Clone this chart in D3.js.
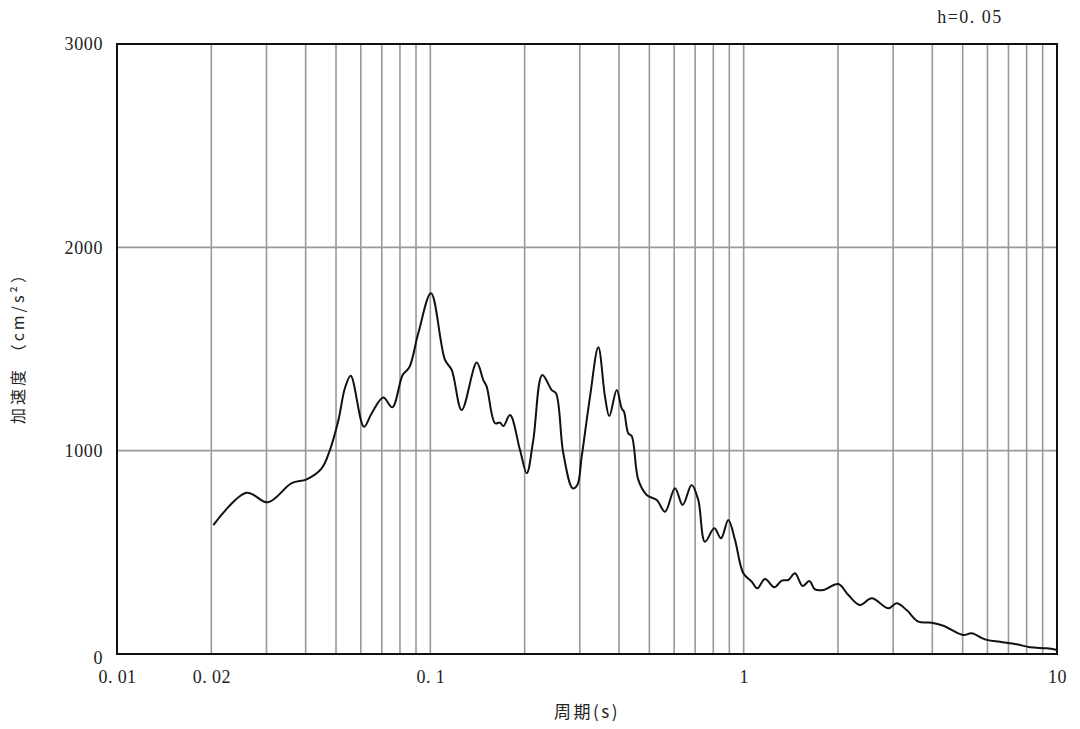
<!DOCTYPE html>
<html>
<head>
<meta charset="utf-8">
<script src="https://cdn.jsdelivr.net/npm/d3@7"></script>
<style>
html,body{margin:0;padding:0;background:#fff;}
svg{display:block;}
</style>
</head>
<body>
<svg id="chart" width="1080" height="729"></svg>
<script>
const periods = [0.0203,0.0259,0.0303,0.0361,0.0403,0.0450,0.0478,0.0509,0.0534,0.0557,
0.0614,0.0650,0.0708,0.0756,0.0816,0.0857,0.0915,0.1005,0.1114,0.1170,
0.1259,0.1406,0.1476,0.1513,0.1609,0.1669,0.1710,0.1796,0.1933,0.2031,
0.2131,0.2277,0.2440,0.2518,0.2657,0.2847,0.2945,0.3041,0.3233,0.3436,
0.3610,0.3726,0.3934,0.4081,0.4150,0.4284,0.4392,0.4611,0.4903,0.5280,
0.5610,0.6037,0.6387,0.6823,0.7163,0.7525,0.8058,0.8467,0.8933,0.9385,
0.9975,1.061,1.105,1.170,1.253,1.322,1.388,1.458,1.543,1.620,
1.689,1.796,2.005,2.158,2.351,2.563,2.895,3.078,3.313,3.609,
3.983,4.337,5.024,5.343,5.892,6.580,7.436,8.203,9.273,10.0];
const accel = [634,793,746,840,859,913,1003,1151,1308,1369,
1118,1184,1261,1213,1372,1410,1577,1774,1446,1397,
1200,1433,1347,1315,1135,1138,1121,1175,1003,889,
1052,1372,1298,1282,987,815,831,970,1265,1508,
1265,1170,1298,1208,1192,1085,1072,856,782,757,
700,815,733,831,757,552,618,569,659,561,
397,356,323,369,328,361,364,397,334,359,
318,315,344,290,241,274,225,249,216,159,
154,139,93,102,72,60,48,33,28,20];
const gridPeriods = [0.02,0.03,0.04,0.05,0.06,0.07,0.08,0.09,
0.1,0.2,0.3,0.4,0.5,0.6,0.7,0.8,0.9,
1,2,3,4,5,6,7,8,9];
const xTickValues = [0.01,0.02,0.1,1,10];
const xTickLabels = ["0. 01","0. 02","0. 1","1","10"];
const yTickValues = [0,1000,2000,3000];
const yGridValues = [1000,2000];
const xTitle = "周期(s)";
const yTitle = "加速度 （cm/s²）";
const dampingLabel = "h=0. 05";

const svg = d3.select("#chart");
const L = 117, R = 1057, T = 44, B = 654;
const x = d3.scaleLog().domain([0.01,10]).range([L,R]);
const y = d3.scaleLinear().domain([0,3000]).range([B,T]);
const numFont = "'Liberation Serif','DejaVu Serif',serif";
const cjkFont = "'Noto Sans CJK JP','Noto Sans CJK SC',sans-serif";

// grid
svg.append("g").selectAll("line").data(gridPeriods).join("line")
  .attr("x1",d=>x(d)).attr("x2",d=>x(d)).attr("y1",T).attr("y2",B)
  .attr("stroke","#999").attr("stroke-width",1.6);
svg.append("g").selectAll("line").data(yGridValues).join("line")
  .attr("x1",L).attr("x2",R).attr("y1",d=>y(d)).attr("y2",d=>y(d))
  .attr("stroke","#999").attr("stroke-width",1.6);

// curve
const data = periods.map((p,i)=>({p, a: accel[i]}));
svg.append("path").datum(data)
  .attr("fill","none").attr("stroke","#111").attr("stroke-width",2)
  .attr("d", d3.line().x(d=>x(d.p)).y(d=>y(d.a)).curve(d3.curveCatmullRom.alpha(0.5)));

// frame
svg.append("rect").attr("x",L).attr("y",T).attr("width",R-L).attr("height",B-T)
  .attr("fill","none").attr("stroke","#111").attr("stroke-width",2);

// y axis labels
const yAxis = d3.axisLeft(y).tickValues(yTickValues).tickSize(0).tickPadding(14).tickFormat(d3.format("d"));
const gy = svg.append("g").attr("transform",`translate(${L},0)`).call(yAxis);
gy.select(".domain").remove();
gy.selectAll("text").attr("font-family",numFont).attr("font-size",18).attr("fill","#222").attr("letter-spacing","0.6px");
gy.selectAll(".tick").filter(d=>d===0).select("text").attr("dy","0.5em");

// x axis labels
const xAxis = d3.axisBottom(x).tickValues(xTickValues).tickSize(0).tickPadding(16)
  .tickFormat((d,i)=>xTickLabels[i]);
const gx = svg.append("g").attr("transform",`translate(0,${B})`).call(xAxis);
gx.select(".domain").remove();
gx.selectAll("text").attr("font-family",numFont).attr("font-size",18).attr("fill","#222").attr("letter-spacing","0.4px");

// titles
svg.append("text").attr("x",587).attr("y",718).attr("text-anchor","middle")
  .attr("font-family",cjkFont).attr("font-size",17).attr("fill","#222")
  .attr("letter-spacing","2.5px").text(xTitle);
svg.append("text").attr("transform","translate(24,344) rotate(-90)").attr("text-anchor","middle")
  .attr("font-family",cjkFont).attr("font-size",16).attr("fill","#222")
  .attr("letter-spacing","3px").text(yTitle);
svg.append("text").attr("x",970).attr("y",23).attr("text-anchor","middle")
  .attr("font-family",numFont).attr("font-size",18).attr("fill","#222")
  .attr("letter-spacing","1.5px").text(dampingLabel);
</script>
</body>
</html>
